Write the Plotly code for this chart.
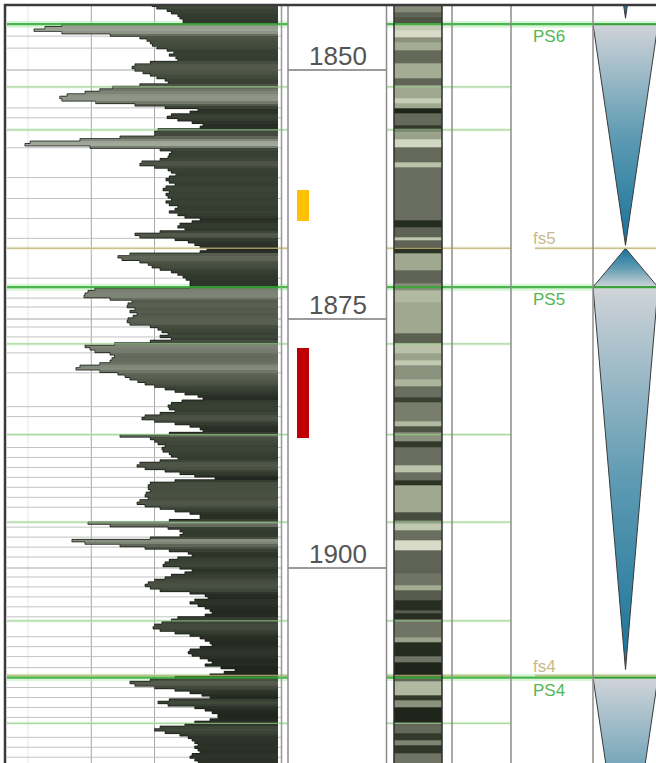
import plotly.graph_objects as go

W, H = 656, 763

# ---------------- data ----------------
DEPTH_TOP = 1843.5      # first GR sample (m)
DEPTH_STEP = 0.25       # GR sampling interval (m)
gr_values = [
    78.8, 81, 86, 88, 91, 92, 93.5, 93.5, 36, 28,
    22.8, 36, 59, 73, 76.4, 78, 79, 81, 86, 89,
    87, 90, 91, 78, 70.7, 69.3, 70.7, 74.5, 78, 81,
    85, 86.5, 73, 60, 54, 47, 38.5, 35, 36, 52,
    70.7, 85, 100.6, 96.8, 88, 86, 91, 97.8, 103, 101.6,
    81.6, 80, 80, 63.6, 44.6, 21, 18.5, 49.4, 82.6, 88,
    87, 86.4, 82.6, 74, 73, 80, 86.4, 88, 90, 87,
    85.4, 87, 89.7, 85.4, 84, 87, 85.4, 86.4, 88, 85.4,
    87, 91, 89.7, 87, 91, 94.4, 101.6, 97.8, 92, 91,
    94.4, 82.6, 70.7, 73, 89.7, 96, 99, 101.6, 104.9, 101.6,
    68.3, 62.6, 64.5, 73, 77, 78.8, 82.6, 88, 91, 93.5,
    95, 96.8, 96.8, 96.8, 51.7, 48.4, 47, 46.5, 58.9, 69.3,
    67.4, 67, 70.7, 68.3, 71.7, 69.8, 67.4, 67, 68.3, 78,
    81.6, 83.5, 86.4, 82.6, 88, 78, 61, 47, 49.4, 51.7,
    58.9, 61, 59.8, 58.9, 54, 44.6, 42.7, 54, 62.6, 66,
    68.3, 72, 75.5, 80, 85, 89.7, 94.4, 100.6, 103, 93,
    88, 86.4, 87, 89.7, 82.6, 75.5, 74, 80, 89.7, 96.8,
    101.6, 103, 87, 63.6, 78, 80, 81.6, 85, 83.5, 84,
    87, 88, 91, 82.6, 73, 71.7, 75.5, 85, 92, 99,
    108.7, 89.7, 78, 77, 77, 78, 76, 75.5, 77, 73,
    71.7, 75.5, 82.6, 89.7, 96.8, 101.6, 101.6, 87, 48.4, 58.9,
    86.4, 92, 93.5, 92, 78, 40.8, 47, 63.6, 75.5, 87,
    96, 97.8, 91, 87, 85, 84, 92, 97.8, 94.4, 88,
    85, 80, 77, 75.5, 78, 82.6, 96.8, 104, 105.4, 99,
    96.8, 100.6, 104, 106.3, 107.3, 104, 91, 88, 83.5, 80,
    79.3, 82.6, 89.7, 96.8, 101.6, 104, 106.3, 107.3, 101.6, 96.8,
    96, 97.8, 101.6, 105.4, 107.3, 104, 111.5, 118.2, 113, 106.3,
    89.7, 78, 68.3, 70.7, 80, 89.7, 96.8, 102.5, 106.3, 87,
    81.6, 86.4, 99, 104, 107.3, 110, 110, 106.3, 99, 94.4,
    82.6, 80, 85, 92, 96, 97.8, 99, 100.6, 99, 100.6,
    101.6, 97.8, 96.8, 99, 100.6,
]
gr_depths = [DEPTH_TOP + DEPTH_STEP * i for i in range(len(gr_values))]
GR_BASELINE = 138.5     # fill reference value (right side of track)

depth_labels = [1850, 1875, 1900]

bed_boundaries = [
    1846.6, 1847.8, 1853.8, 1854.8, 1857.8, 1860.8, 1862.9, 1864.9, 1866.9,
    1870.9, 1872.9, 1873.8, 1875.8, 1876.8, 1878.4, 1880.4, 1883.8, 1884.8,
    1887.9, 1888.9, 1889.9, 1890.9, 1891.9, 1892.9, 1893.9, 1895.9, 1896.9,
    1897.9, 1898.9, 1900.9, 1901.9, 1902.9, 1903.9, 1904.9, 1906.9, 1907.9,
    1908.9, 1910.0, 1912.0, 1913.0, 1914.0, 1915.0, 1917.0, 1918.0, 1919.0,
]

lith_boundaries = [
    1843.5, 1844.2, 1844.7, 1845.3, 1846.0, 1846.7, 1847.2, 1848.0, 1849.3, 1850.8,
    1851.5, 1852.8, 1853.3, 1853.8, 1854.3, 1855.5, 1855.9, 1856.2, 1857.0, 1857.8,
    1859.3, 1859.8, 1865.1, 1865.8, 1866.8, 1867.1, 1867.8, 1868.4, 1870.1, 1871.4,
    1872.1, 1873.3, 1876.4, 1877.4, 1878.4, 1879.1, 1879.6, 1881.1, 1881.8, 1882.9,
    1883.4, 1885.3, 1885.8, 1886.4, 1887.3, 1887.9, 1889.7, 1890.4, 1891.2, 1891.7,
    1894.4, 1895.2, 1895.5, 1896.2, 1897.2, 1898.2, 1900.5, 1901.7, 1902.2, 1903.2,
    1904.2, 1904.5, 1905.2, 1907.0, 1907.5, 1908.9, 1909.5, 1910.9, 1911.4, 1912.8,
    1913.3, 1914.0, 1915.5, 1915.8, 1916.6, 1917.3, 1917.8, 1918.6, 1919.6,
]
lith_shade = [
    0.60, 0.45, 0.35, 0.85, 0.95, 0.62, 0.72, 0.47, 0.72, 0.45,
    0.70, 0.88, 0.70, 0.05, 0.47, 0.20, 0.40, 0.68, 0.93, 0.47,
    0.82, 0.50, 0.10, 0.44, 0.85, 0.44, 0.15, 0.70, 0.44, 0.60,
    0.78, 0.70, 0.42, 0.82, 0.68, 0.86, 0.62, 0.76, 0.50, 0.25,
    0.55, 0.78, 0.35, 0.62, 0.20, 0.50, 0.82, 0.50, 0.15, 0.70,
    0.32, 0.55, 0.85, 0.50, 0.95, 0.44, 0.52, 0.72, 0.40, 0.12,
    0.40, 0.12, 0.52, 0.68, 0.10, 0.52, 0.06, 0.45, 0.78, 0.20,
    0.62, 0.06, 0.45, 0.47, 0.20, 0.58, 0.18, 0.52,
]

horizon_names = ["PS6", "fs5", "PS5", "fs4", "PS4"]
horizon_depths = [1845.4, 1867.9, 1871.8, 1910.8, 1911.0]

minor_horizon_depths = [1851.7, 1856.0, 1877.5, 1886.6, 1895.4, 1905.3, 1915.6]

sample_tops = [1862.0, 1877.9]
sample_bases = [1865.2, 1886.9]

tri_tops = [1822.0, 1845.4, 1867.9, 1871.8, 1911.0]
tri_bases = [1844.8, 1867.6, 1871.8, 1910.2, 1933.0]
tri_apex = ["bottom", "bottom", "top", "bottom", "bottom"]

# ---------------- styles / layout helpers ----------------
FONT = "Liberation Sans, Arial, sans-serif"
sample_colors = ["#FFC000", "#C00000"]
gr_colorscale = [
    [0.0, "#a6ac9d"], [0.26, "#8a9082"], [0.42, "#6e7566"],
    [0.58, "#535a4b"], [0.74, "#3a4235"], [0.9, "#2a3026"], [1.0, "#20251d"],
]
lith_colorscale = [
    [0.0, "#161c12"], [0.25, "#3a4232"], [0.5, "#6a6e60"],
    [0.7, "#a0a890"], [0.85, "#c0c8b0"], [1.0, "#e2e4d4"],
]
tri_colorscale = [[0.0, "#17729a"], [0.5, "#5f9bb3"], [1.0, "#d0d4d8"]]


def px(x):
    return x / W


def py(y):
    return 1 - y / H


Y_RANGE = [1919.58, 1843.47]

fig = go.Figure()

# GR fill (coloured by value) and outline
fig.add_trace(go.Bar(
    orientation="h", y=gr_depths,
    x=[GR_BASELINE - v for v in gr_values], base=gr_values,
    width=DEPTH_STEP,
    marker=dict(color=gr_values, colorscale=gr_colorscale, cmin=15, cmax=110,
                line=dict(width=0)),
    xaxis="x", yaxis="y", hoverinfo="skip",
))
fig.add_trace(go.Scatter(
    x=gr_values, y=gr_depths, mode="lines",
    line=dict(color="rgba(25,30,22,0.8)", width=1, shape="vhv"),
    xaxis="x", yaxis="y", hoverinfo="skip",
))

# lithology column
fig.add_trace(go.Heatmap(
    x=[0, 1], y=lith_boundaries, z=[[s] for s in lith_shade],
    colorscale=lith_colorscale, zmin=0, zmax=1, showscale=False,
    xaxis="x2", yaxis="y", hoverinfo="skip",
))

# sample intervals in depth track
fig.add_trace(go.Bar(
    x=[0.152, 0.152], base=sample_tops,
    y=[b - t for t, b in zip(sample_tops, sample_bases)],
    width=0.122, marker=dict(color=sample_colors, line=dict(width=0)),
    xaxis="x4", yaxis="y", hoverinfo="skip",
))

# stacking-pattern triangles
for top, base, apex in zip(tri_tops, tri_bases, tri_apex):
    if apex == "bottom":
        xs, ys = [0, 1, 0.5, 0], [top, top, base, top]
        a, b = base, top
    else:
        xs, ys = [0.5, 1, 0, 0.5], [top, base, base, top]
        a, b = top, base
    fig.add_trace(go.Scatter(
        x=xs, y=ys, mode="lines", fill="toself",
        fillgradient=dict(type="vertical", colorscale=tri_colorscale,
                          start=a, stop=b),
        line=dict(color="#3a3a3a", width=1),
        xaxis="x3", yaxis="y", hoverinfo="skip",
    ))

shapes = []
# GR track gridlines (below fill)
for v, col in [(20, "#e6e6e6"), (50, "#a8a8a8"), (80, "#a8a8a8")]:
    shapes.append(dict(type="line", xref="x", yref="paper", x0=v, x1=v,
                       y0=0, y1=py(5), line=dict(color=col, width=1), layer="below"))
for d in bed_boundaries:
    shapes.append(dict(type="line", xref="paper", yref="y", x0=px(7), x1=px(281),
                       y0=d, y1=d, line=dict(color="#c2c2c2", width=1), layer="below"))
for d in depth_labels:
    shapes.append(dict(type="line", xref="paper", yref="y", x0=px(7), x1=px(281),
                       y0=d, y1=d, line=dict(color="#a6a6a6", width=1), layer="below"))
    shapes.append(dict(type="line", xref="paper", yref="y", x0=px(288), x1=px(386.5),
                       y0=d, y1=d, line=dict(color="#7a7a7a", width=1.5), layer="above"))

# minor horizons
for d in minor_horizon_depths:
    for x0, x1 in [(7, 288), (386.5, 511)]:
        shapes.append(dict(type="rect", xref="paper", yref="y", x0=px(x0), x1=px(x1),
                           y0=d - 0.15, y1=d + 0.15, line=dict(width=0),
                           fillcolor="rgba(200,236,190,0.45)", layer="below"))
        shapes.append(dict(type="line", xref="paper", yref="y", x0=px(x0), x1=px(x1),
                           y0=d, y1=d, line=dict(color="rgba(150,205,140,0.75)", width=1.3),
                           layer="above"))

# major horizons
for name, d in zip(horizon_names, horizon_depths):
    if name.startswith("PS"):
        segs = [(7, 288), (386.5, 656)]
        halo, col, wid, hw = "rgba(175,235,175,0.5)", "rgba(50,170,50,0.85)", 2.2, 0.35
    else:
        segs = [(7, 288), (386.5, 511), (535, 656)]
        halo, col, wid, hw = "rgba(235,230,195,0.4)", "rgba(190,180,120,0.8)", 1.6, 0.2
    for x0, x1 in segs:
        shapes.append(dict(type="rect", xref="paper", yref="y", x0=px(x0), x1=px(x1),
                           y0=d - hw, y1=d + hw, line=dict(width=0),
                           fillcolor=halo, layer="below"))
        shapes.append(dict(type="line", xref="paper", yref="y", x0=px(x0), x1=px(x1),
                           y0=d, y1=d, line=dict(color=col, width=wid), layer="above"))

# track borders
for x, col, w in [(281.5, "#9a9a9a", 1.5), (288, "#8c8c8c", 1.5), (386.5, "#8c8c8c", 1.5),
                  (394, "#2e2e2e", 1.5), (442, "#2e2e2e", 1.5), (452, "#8c8c8c", 1.5),
                  (511, "#8c8c8c", 1.5), (593, "#8c8c8c", 1.5)]:
    shapes.append(dict(type="line", xref="paper", yref="paper", x0=px(x), x1=px(x),
                       y0=0, y1=py(5), line=dict(color=col, width=w), layer="above"))
# frame
shapes.append(dict(type="line", xref="paper", yref="paper", x0=px(4), x1=1,
                   y0=py(5), y1=py(5), line=dict(color="#3a3a3a", width=2.5), layer="above"))
shapes.append(dict(type="line", xref="paper", yref="paper", x0=px(5), x1=px(5),
                   y0=0, y1=py(4), line=dict(color="#3a3a3a", width=2.5), layer="above"))

annotations = []
for d in depth_labels:
    annotations.append(dict(x=px(338), xref="paper", y=d, yref="y", text=str(d),
                            showarrow=False, xanchor="center", yanchor="bottom", yshift=-3,
                            font=dict(family=FONT, size=26, color="#555555")))
for name, d in zip(horizon_names, horizon_depths):
    is_ps = name.startswith("PS")
    annotations.append(dict(x=px(531), xref="paper", y=d, yref="y", text=name,
                            showarrow=False, xanchor="left",
                            yanchor="top" if is_ps else "bottom",
                            yshift=-1 if is_ps else -2,
                            font=dict(family=FONT, size=17,
                                      color="#52b852" if is_ps else "#c8b98a")))

hidden = dict(showgrid=False, zeroline=False, showticklabels=False, ticks="",
              showline=False, fixedrange=True)
fig.update_layout(
    width=W, height=H, margin=dict(l=0, r=0, t=0, b=0),
    paper_bgcolor="white", plot_bgcolor="rgba(0,0,0,0)",
    showlegend=False, barmode="overlay", bargap=0,
    xaxis=dict(domain=[px(7), px(281)], range=[10, 140], **hidden),
    xaxis2=dict(domain=[px(394), px(442)], range=[0, 1], anchor="y", **hidden),
    xaxis3=dict(domain=[px(593), 1], range=[0, 63 / 65], anchor="y", **hidden),
    xaxis4=dict(domain=[px(288), px(386.5)], range=[0, 1], anchor="y", **hidden),
    yaxis=dict(domain=[0, py(5)], range=Y_RANGE, **hidden),
    shapes=shapes, annotations=annotations,
)

fig.write_html(
    "out.html",
    config={"displayModeBar": False},
    post_script="document.body.style.margin='0';document.body.style.padding='0';",
)
